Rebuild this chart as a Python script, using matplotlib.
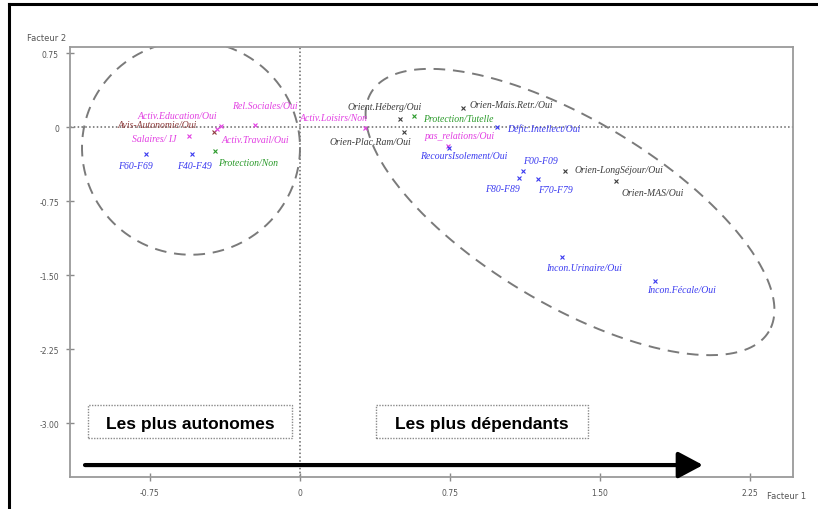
#!/usr/bin/env python3
"""
Plan factoriel (facteurs 1 et 2) de l'analyse des correspondances multiples :
modalités actives projetées, regroupées en deux pôles (autonomes / dépendants).
"""

import numpy as np
import matplotlib.pyplot as plt
from matplotlib.lines import Line2D
from matplotlib.patches import Rectangle
from matplotlib import font_manager

# Modalités et coordonnées sur les deux premiers facteurs
labels = [
    'Activ.Education/Oui', 'Rel.Sociales/Oui', 'Avis-Autonomie/Oui',
    'Activ.Travail/Oui', 'Salaires/ IJ', 'F60-F69', 'F40-F49',
    'Protection/Non', 'Activ.Loisirs/Non', 'Orient.Héberg/Oui',
    'Protection/Tutelle', 'Orien-Mais.Retr./Oui', 'Orien-Plac.Ram/Oui',
    'Défic.Intellect/Oui', 'pas_relations/Oui', 'RecoursIsolement/Oui',
    'F00-F09', 'F80-F89', 'F70-F79', 'Orien-LongSéjour/Oui',
    'Orien-MAS/Oui', 'Incon.Urinaire/Oui', 'Incon.Fécale/Oui',
]
facteur1 = [
    -0.395, -0.225, -0.43, -0.415, -0.555, -0.77, -0.54,
    -0.425, 0.325, 0.50,
    0.57, 0.815, 0.52,
    0.985, 0.74, 0.745,
    1.115, 1.095, 1.19, 1.325,
    1.58, 1.31, 1.775,
]
facteur2 = [
    0.01, 0.02, -0.05, -0.02, -0.09, -0.27, -0.27,
    -0.245, -0.01, 0.08,
    0.11, 0.19, -0.05,
    0.0, -0.19, -0.21,
    -0.445, -0.52, -0.53, -0.445,
    -0.55, -1.32, -1.56,
]
# Variable d'origine de chaque modalité
variables = [
    'vie', 'vie', 'avis', 'vie', 'vie', 'diag', 'diag',
    'protection', 'vie', 'orientation',
    'protection', 'orientation', 'orientation',
    'diag', 'vie', 'diag',
    'diag', 'diag', 'diag', 'orientation',
    'orientation', 'diag', 'diag',
]

axis_ticks = [-0.75, 0, 0.75, 1.50, 2.25]
y_ticks = [0.75, 0, -0.75, -1.50, -2.25, -3.00]

colors = {
    'vie': '#e23ee2',
    'avis': '#8c3b3b',
    'diag': '#3a3af0',
    'protection': '#2a9a2a',
    'orientation': '#3c3c3c',
}

# Décalage des étiquettes (pixels) par rapport au point
offsets = [
    (-83, 11), (-23, 20), (-96, 7), (5, -11), (-57, -3), (-28, -12), (-15, -12),
    (3, -11), (-65, 11), (-52, 13),
    (9, -2), (7, 4), (-74, -10),
    (10, -1), (-23, 10), (-29, -8),
    (0, 10), (-34, -10), (0, -10), (10, 1),
    (6, -11), (-16, -10), (-8, -9),
]

PX_X = 200.0    # pixels par unité, facteur 1
PX_Y = 98.67    # pixels par unité, facteur 2

# Police étroite pour les encadrés si disponible
installed = {f.name for f in font_manager.fontManager.ttflist}
if 'Liberation Sans Narrow' in installed:
    box_font, box_size = 'Liberation Sans Narrow', 15
else:
    box_font, box_size = 'Liberation Sans', 12.5


def dashed_ellipse(ax, cx, cy, a, b, angle_deg):
    """Ellipse tiretée définie en pixels (demi-axes a, b), centrée en données."""
    t = np.linspace(0, 2 * np.pi, 400)
    th = np.radians(angle_deg)
    px = a * np.cos(t) * np.cos(th) - b * np.sin(t) * np.sin(th)
    py = a * np.cos(t) * np.sin(th) + b * np.sin(t) * np.cos(th)
    ax.plot(cx + px / PX_X, cy - py / PX_Y, color='#7a7a7a', lw=1.4,
            dashes=(6, 4), zorder=1)


fig = plt.figure(figsize=(8.18, 5.10), dpi=100)
ax = fig.add_axes([70 / 818, 1 - 478 / 510, 723 / 818, 430 / 510])
ax.set_xlim(-1.15, 2.465)
ax.set_ylim(-3.547, 0.811)

for s in ax.spines.values():
    s.set_color('#9a9a9a')
    s.set_linewidth(1.3)

ax.set_xticks(axis_ticks)
ax.set_xticklabels(['-0.75', '0', '0.75', '1.50', '2.25'])
ax.set_yticks(y_ticks)
ax.set_yticklabels(['0.75', '0', '-0.75', '-1.50', '-2.25', '-3.00'])
ax.tick_params(direction='inout', length=6, width=1, color='#8a8a8a',
               labelsize=5.5, labelcolor='#555555', pad=5)

# Axes du plan
ax.axhline(0, color='#666666', lw=1.1, ls=(0, (1, 1.5)), zorder=1)
ax.axvline(0, color='#666666', lw=1.1, ls=(0, (1, 1.5)), zorder=1)

# Points et étiquettes
for name, x, y, var, (dx, dy) in zip(labels, facteur1, facteur2, variables, offsets):
    c = colors[var]
    ax.plot(x, y, marker='x', ms=3.2, mew=0.8, color=c, ls='none', zorder=3)
    ax.annotate(name, (x, y), xytext=(dx, dy), textcoords='offset pixels',
                ha='left', va='center', fontsize=7, style='italic',
                family='Liberation Serif', color=c, zorder=4)

# Regroupements
dashed_ellipse(ax, -0.545, -0.21, 109, 107, 0)
dashed_ellipse(ax, (570 - 300) / PX_X, (128 - 213) / PX_Y, 232, 92, 31)

# Encadrés des deux pôles
for x0, x1, txt in [(-1.06, -0.04, 'Les plus autonomes'),
                    (0.38, 1.44, 'Les plus dépendants')]:
    ax.add_patch(Rectangle((x0, -3.152), x1 - x0, 0.335, fill=False,
                           ec='#8a8a8a', lw=1.0, ls=(0, (1, 1)), zorder=2))
    ax.text((x0 + x1) / 2, -3.0, txt, ha='center', va='center',
            fontsize=box_size, fontweight='bold', family=box_font)

# Flèche de l'autonomie vers la dépendance
ax.annotate('', xy=(2.015, -3.426), xytext=(-1.075, -3.426),
            arrowprops=dict(arrowstyle='-|>,head_length=1.5,head_width=0.8',
                            lw=3, color='black', shrinkA=0, shrinkB=0))

fig.text(27 / 818, 1 - 39 / 510, 'Facteur 2', fontsize=6, color='#555555',
         ha='left', va='center')
fig.text(767 / 818, 1 - 497 / 510, 'Facteur 1', fontsize=6, color='#555555',
         ha='left', va='center')

# Cadre de la figure
fig.add_artist(Line2D([9 / 818, 1], [1 - 5 / 510] * 2, color='black', lw=2.2))
fig.add_artist(Line2D([9 / 818] * 2, [0, 1 - 5 / 510], color='black', lw=2.2))

fig.savefig('out.png', dpi=100)
